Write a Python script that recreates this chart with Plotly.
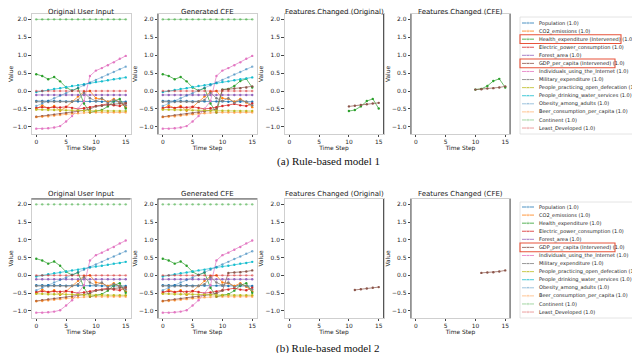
import plotly.graph_objects as go

W, H = 640, 353

steps = list(range(16))

features = ["Population", "CO2_emissions", "Health_expenditure", "Electric_power_consumption",
            "Forest_area", "GDP_per_capita", "Individuals_using_the_Internet", "Military_expenditure",
            "People_practicing_open_defecation", "People_drinking_water_services",
            "Obesity_among_adults", "Beer_consumption_per_capita", "Continent", "Least_Developed"]

colors = ["#1f77b4", "#ff7f0e", "#2ca02c", "#d62728", "#9467bd", "#8c564b", "#e377c2", "#7f7f7f",
          "#bcbd22", "#17becf", "rgba(31,119,180,0.55)", "rgba(255,127,14,0.55)",
          "rgba(44,160,44,0.55)", "rgba(214,39,40,0.55)"]

# original user input (same for both models)
population = [-0.28, -0.28, -0.28, -0.28, -0.28, -0.29, -0.29, -0.29, -0.29, -0.29, -0.29, -0.30, -0.30, -0.30, -0.30, -0.30]
co2 = [-0.50, -0.40, -0.48, -0.42, -0.55, -0.45, -0.30, -0.15, -0.02, 0.00, -0.20, -0.22, -0.30, -0.22, -0.32, -0.45]
health = [0.47, 0.42, 0.33, 0.39, 0.27, 0.10, 0.01, 0.08, -0.35, -0.60, -0.56, -0.53, -0.43, -0.28, -0.22, -0.49]
electric = [-0.47, -0.45, -0.47, -0.45, -0.46, -0.44, -0.47, -0.50, -0.48, -0.45, -0.42, -0.40, -0.36, -0.40, -0.42, -0.35]
forest = [-0.11, -0.11, -0.11, -0.11, -0.11, -0.11, -0.11, -0.11, -0.11, -0.11, -0.11, -0.11, -0.11, -0.11, -0.11, -0.11]
gdp = [-0.72, -0.70, -0.68, -0.66, -0.64, -0.62, -0.60, -0.57, -0.54, -0.50, -0.43, -0.41, -0.39, -0.37, -0.35, -0.33]
internet = [-1.05, -1.05, -1.04, -1.02, -0.98, -0.85, -0.70, -0.50, -0.28, 0.42, 0.57, 0.64, 0.72, 0.80, 0.90, 0.98]
military = [-0.30, -0.30, -0.31, -0.30, -0.30, -0.31, -0.30, -0.25, -0.05, -0.20, -0.28, -0.20, -0.33, -0.25, -0.30, -0.40]
defecation = [-0.52, -0.52, -0.53, -0.53, -0.53, -0.54, -0.54, -0.54, -0.55, -0.55, -0.55, -0.55, -0.56, -0.56, -0.56, -0.56]
water = [-0.03, 0.00, 0.03, 0.06, 0.08, 0.11, 0.14, 0.16, 0.19, 0.22, 0.25, 0.27, 0.30, 0.33, 0.35, 0.38]
obesity = [-0.42, -0.35, -0.28, -0.20, -0.13, -0.06, 0.02, 0.09, 0.16, 0.24, 0.31, 0.38, 0.46, 0.53, 0.61, 0.68]
beer = [-0.73, -0.72, -0.71, -0.69, -0.67, -0.65, -0.63, -0.62, -0.61, -0.60, -0.60, -0.60, -0.61, -0.60, -0.60, -0.60]
continent = [2.0, 2.0, 2.0, 2.0, 2.0, 2.0, 2.0, 2.0, 2.0, 2.0, 2.0, 2.0, 2.0, 2.0, 2.0, 2.0]
least_dev = [0.0, 0.0, 0.0, 0.0, 0.0, 0.0, 0.0, 0.0, 0.0, 0.0, 0.0, 0.0, 0.0, 0.0, 0.0, 0.0]

original = [population, co2, health, electric, forest, gdp, internet, military,
            defecation, water, obesity, beer, continent, least_dev]

# counterfactual values for the intervened features
m1_steps = [10, 11, 12, 13, 14, 15]
m1_health_cfe = [0.04, 0.06, 0.14, 0.28, 0.34, 0.10]
m1_gdp_cfe = [0.04, 0.05, 0.07, 0.08, 0.10, 0.13]
m2_steps = [11, 12, 13, 14, 15]
m2_gdp_cfe = [0.07, 0.08, 0.09, 0.11, 0.14]

captions = ["(a) Rule-based model 1", "(b) Rule-based model 2"]
panel_titles = ["Original User Input", "Generated CFE", "Features Changed (Original)", "Features Changed (CFE)"]
intervened = [["Health_expenditure", "GDP_per_capita"], ["GDP_per_capita"]]


def apply_cfe(series, cfe_steps, cfe_vals):
    out = list(series)
    for s, v in zip(cfe_steps, cfe_vals):
        out[s] = v
    return out


m1_cfe = [list(s) for s in original]
m1_cfe[2] = apply_cfe(health, m1_steps, m1_health_cfe)
m1_cfe[5] = apply_cfe(gdp, m1_steps, m1_gdp_cfe)
m2_cfe = [list(s) for s in original]
m2_cfe[5] = apply_cfe(gdp, m2_steps, m2_gdp_cfe)

rows = [
    dict(cfe=m1_cfe, changed=[(2, m1_steps), (5, m1_steps)], top=6, bottom=126, title_y=4.2),
    dict(cfe=m2_cfe, changed=[(5, m2_steps)], top=191, bottom=310, title_y=186),
]
cols = [(23.5, 122.5), (150, 249), (276.5, 375.5), (403, 502)]

fig = go.Figure()
layout = dict(width=W, height=H, margin=dict(l=0, r=0, t=0, b=0),
              plot_bgcolor="rgba(0,0,0,0)", paper_bgcolor="white", showlegend=False,
              font=dict(family="DejaVu Sans", color="#222"))
annotations = []
shapes = []

tick_font = dict(family="DejaVu Sans", size=5.9, color="#222")

for r, row in enumerate(rows):
    for c, (l, rr) in enumerate(cols):
        k = r * 4 + c + 1
        xa = "xaxis" if k == 1 else f"xaxis{k}"
        ya = "yaxis" if k == 1 else f"yaxis{k}"
        xr = "x" if k == 1 else f"x{k}"
        yr = "y" if k == 1 else f"y{k}"
        layout[xa] = dict(domain=[l / W, rr / W], anchor=yr, range=[-0.8, 15.8],
                          tickvals=[0, 5, 10, 15], ticks="outside", ticklen=2.5, tickwidth=0.6,
                          tickcolor="#444", tickfont=tick_font, showgrid=False, zeroline=False,
                          showline=True, mirror=True, linecolor="#cfcfcf", linewidth=0.8,
                          title=dict(text="Time Step", font=tick_font, standoff=1))
        layout[ya] = dict(domain=[1 - row["bottom"] / H, 1 - row["top"] / H], anchor=xr,
                          range=[-1.2, 2.15], tickvals=[-1, -0.5, 0, 0.5, 1, 1.5, 2],
                          ticktext=["\u22121.0", "\u22120.5", "0.0", "0.5", "1.0", "1.5", "2.0"],
                          ticks="outside", ticklen=2.5, tickwidth=0.6, tickcolor="#444",
                          tickfont=tick_font, showgrid=False, zeroline=False,
                          showline=True, mirror=True, linecolor="#cfcfcf", linewidth=0.8,
                          title=dict(text="Value", font=tick_font, standoff=1))
        annotations.append(dict(text=panel_titles[c], x=(l + rr) / 2 / W, y=1 - row["title_y"] / H,
                                xref="paper", yref="paper", xanchor="center", yanchor="middle",
                                showarrow=False, font=dict(size=7, color="#222")))
        if c < 2:
            data = original if c == 0 else row["cfe"]
            for i, s in enumerate(data):
                lc = colors[i]
                if r == 1 and i == 12:
                    lc = "rgba(44,160,44,0.15)"
                fig.add_trace(go.Scatter(x=steps, y=s, mode="lines+markers", xaxis=xr, yaxis=yr,
                                         line=dict(color=lc, width=0.7),
                                         marker=dict(color=colors[i], size=2.4)))
        else:
            data = original if c == 2 else row["cfe"]
            for i, st in row["changed"]:
                fig.add_trace(go.Scatter(x=st, y=[data[i][s] for s in st], mode="lines+markers",
                                         xaxis=xr, yaxis=yr, line=dict(color=colors[i], width=0.7),
                                         marker=dict(color=colors[i], size=2.4)))

    # legend drawn by hand in pixel coordinates
    y0 = row["top"] + 9 if r == 0 else row["top"] + 8
    ltop = row["top"] + 3
    shapes.append(dict(type="rect", xref="x9", yref="y9", x0=512, x1=642, y0=ltop, y1=row["bottom"],
                       line=dict(color="#dddddd", width=0.8), fillcolor="white", layer="below"))
    for i, name in enumerate(features):
        yy = y0 + i * 8.08
        fig.add_trace(go.Scatter(x=[514, 520, 526], y=[yy, yy, yy], mode="lines+markers",
                                 xaxis="x9", yaxis="y9", line=dict(color=colors[i], width=0.8),
                                 marker=dict(color=colors[i], size=[0, 2.6, 0])))
        label = name + (" (Intervened)" if name in intervened[r] else "") + " (1.0)"
        annotations.append(dict(text=label, x=529, y=yy, xref="x9", yref="y9", xanchor="left",
                                yanchor="middle", showarrow=False,
                                font=dict(size=5.0, color="#222")))
        if name in intervened[r]:
            x1 = 613 if name == "Health_expenditure" else 607
            shapes.append(dict(type="rect", xref="x9", yref="y9", x0=512, x1=x1, y0=yy - 4.4,
                               y1=yy + 4.4, line=dict(color="#e8533a", width=1.1)))
    annotations.append(dict(text=captions[r], x=0.5, y=1 - (153 if r == 0 else 340) / H,
                            xref="paper", yref="paper", xanchor="center", yanchor="middle",
                            showarrow=False,
                            font=dict(family="Liberation Serif", size=11, color="#111")))

# dark edges left by the pasted sub-images
dark = dict(color="#555555", width=1)
for (xa0, ya0, xa1, ya1) in [(150, 6, 150, 126), (375.5, 6, 375.5, 126), (403, 6, 403, 126),
                             (502, 6, 502, 126), (23.5, 191, 122.5, 191), (150, 191, 249, 191),
                             (150, 191, 150, 310), (375.5, 191, 375.5, 310), (403, 191, 403, 310),
                             (502, 191, 502, 310)]:
    shapes.append(dict(type="line", xref="x9", yref="y9", x0=xa0, x1=xa1, y0=ya0, y1=ya1, line=dark))

layout["xaxis9"] = dict(domain=[0, 1], range=[0, W], visible=False, fixedrange=True, anchor="y9")
layout["yaxis9"] = dict(domain=[0, 1], range=[H, 0], visible=False, fixedrange=True, anchor="x9")
layout["annotations"] = annotations
layout["shapes"] = shapes
fig.update_layout(**layout)

fig.write_html("out.html")
